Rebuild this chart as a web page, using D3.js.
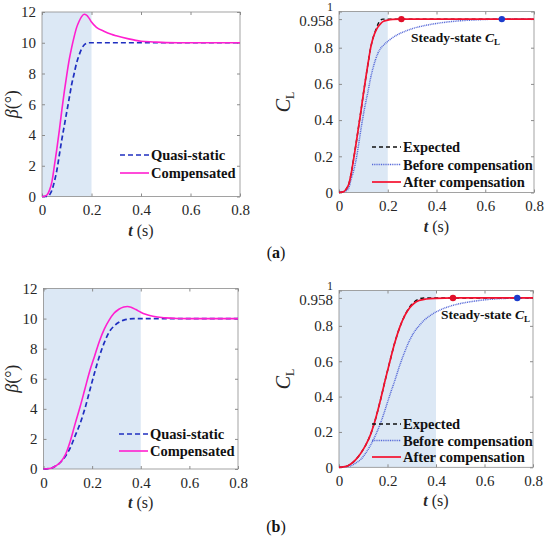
<!DOCTYPE html>
<html>
<head>
<meta charset="utf-8">
<script src="https://cdn.jsdelivr.net/npm/d3@7"></script>
<style>
  body { margin: 0; background: #fff; }
  svg text { font-family: "Liberation Serif", "Times New Roman", serif; }
</style>
</head>
<body>
<div class="container"></div>
<script>
// ---- data ----
const xTicks = [0, 0.2, 0.4, 0.6, 0.8];
const betaTicks = [0, 2, 4, 6, 8, 10, 12];
const clTicks = [0, 0.2, 0.4, 0.6, 0.8, 0.958, 1];

// (a) beta
const tA_qs   = [0, 0.02, 0.03, 0.04, 0.05, 0.06, 0.07, 0.08, 0.09, 0.10, 0.11, 0.12, 0.13, 0.14, 0.15, 0.16, 0.17, 0.18, 0.19, 0.8];
const betaA_qs = [0, 0, 0.1, 0.4, 0.97, 1.7, 2.7, 3.7, 4.6, 5.5, 6.4, 7.3, 8.0, 8.7, 9.2, 9.6, 9.85, 9.97, 10, 10];
const tA_comp   = [0, 0.01, 0.02, 0.03, 0.04, 0.05, 0.06, 0.07, 0.08, 0.09, 0.10, 0.11, 0.12, 0.13, 0.14, 0.15, 0.16, 0.17, 0.18, 0.19, 0.2, 0.22, 0.25, 0.28, 0.3, 0.35, 0.4, 0.45, 0.5, 0.55, 0.8];
const betaA_comp = [0, 0.02, 0.1, 0.4, 0.95, 2.0, 3.1, 4.3, 5.6, 6.8, 7.9, 8.9, 9.7, 10.4, 11.0, 11.4, 11.7, 11.85, 11.8, 11.6, 11.35, 11.0, 10.75, 10.55, 10.45, 10.25, 10.1, 10.05, 10.01, 10, 10];

// (a) CL
const tA_exp  = [0, 0.02, 0.03, 0.04, 0.05, 0.06, 0.07, 0.08, 0.09, 0.10, 0.11, 0.12, 0.13, 0.14, 0.15, 0.16, 0.17, 0.18, 0.8];
const clA_exp = [0, 0.005, 0.02, 0.045, 0.105, 0.185, 0.27, 0.36, 0.45, 0.545, 0.635, 0.72, 0.8, 0.855, 0.895, 0.93, 0.952, 0.958, 0.958];
const tA_before  = [0, 0.03, 0.04, 0.05, 0.06, 0.07, 0.08, 0.09, 0.10, 0.11, 0.12, 0.13, 0.14, 0.15, 0.16, 0.17, 0.18, 0.2, 0.22, 0.24, 0.27, 0.3, 0.35, 0.4, 0.45, 0.5, 0.55, 0.6, 0.67, 0.8];
const clA_before = [0, 0.01, 0.025, 0.075, 0.12, 0.18, 0.26, 0.35, 0.43, 0.5, 0.565, 0.635, 0.69, 0.735, 0.77, 0.795, 0.81, 0.835, 0.855, 0.872, 0.89, 0.905, 0.922, 0.934, 0.943, 0.949, 0.953, 0.956, 0.958, 0.958];
const tA_after  = [0, 0.02, 0.03, 0.04, 0.05, 0.06, 0.07, 0.08, 0.09, 0.10, 0.11, 0.12, 0.13, 0.14, 0.15, 0.16, 0.17, 0.18, 0.2, 0.22, 0.25, 0.8];
const clA_after = [0, 0.005, 0.02, 0.045, 0.105, 0.185, 0.27, 0.36, 0.45, 0.545, 0.635, 0.72, 0.8, 0.855, 0.89, 0.915, 0.932, 0.944, 0.952, 0.956, 0.958, 0.958];
const dotsA = [0.256, 0.668];

// (b) beta
const tB_qs   = [0, 0.03, 0.05, 0.07, 0.09, 0.11, 0.13, 0.15, 0.17, 0.19, 0.21, 0.23, 0.25, 0.27, 0.29, 0.31, 0.33, 0.35, 0.37, 0.8];
const betaB_qs = [0, 0.05, 0.2, 0.45, 0.85, 1.4, 2.2, 3.0, 4.0, 5.2, 6.4, 7.5, 8.4, 9.1, 9.5, 9.75, 9.9, 9.97, 10, 10];
const tB_comp   = [0, 0.03, 0.05, 0.07, 0.09, 0.11, 0.13, 0.15, 0.17, 0.19, 0.21, 0.23, 0.25, 0.27, 0.29, 0.31, 0.33, 0.345, 0.36, 0.38, 0.40, 0.42, 0.45, 0.5, 0.55, 0.6, 0.8];
const betaB_comp = [0, 0.05, 0.2, 0.45, 0.95, 1.85, 3.0, 4.1, 5.3, 6.5, 7.5, 8.5, 9.3, 9.9, 10.35, 10.62, 10.77, 10.8, 10.75, 10.6, 10.42, 10.28, 10.15, 10.05, 10.01, 10, 10];

// (b) CL
const tB_exp  = [0, 0.03, 0.05, 0.07, 0.09, 0.11, 0.13, 0.15, 0.17, 0.19, 0.21, 0.23, 0.25, 0.27, 0.29, 0.31, 0.33, 0.35, 0.8];
const clB_exp = [0, 0.005, 0.02, 0.045, 0.08, 0.125, 0.185, 0.27, 0.375, 0.49, 0.6, 0.705, 0.79, 0.855, 0.905, 0.935, 0.952, 0.958, 0.958];
const tB_before  = [0, 0.05, 0.07, 0.09, 0.11, 0.13, 0.15, 0.17, 0.19, 0.21, 0.23, 0.25, 0.27, 0.29, 0.31, 0.33, 0.35, 0.38, 0.42, 0.46, 0.5, 0.55, 0.6, 0.65, 0.7, 0.75, 0.8];
const clB_before = [0, 0.01, 0.025, 0.045, 0.08, 0.125, 0.18, 0.245, 0.325, 0.41, 0.49, 0.575, 0.65, 0.715, 0.765, 0.8, 0.83, 0.862, 0.892, 0.912, 0.926, 0.938, 0.947, 0.953, 0.956, 0.958, 0.958];
const tB_after  = [0, 0.03, 0.05, 0.07, 0.09, 0.11, 0.13, 0.15, 0.17, 0.19, 0.21, 0.23, 0.25, 0.27, 0.29, 0.31, 0.33, 0.36, 0.4, 0.47, 0.8];
const clB_after = [0, 0.005, 0.02, 0.045, 0.08, 0.125, 0.185, 0.27, 0.375, 0.49, 0.6, 0.705, 0.79, 0.855, 0.9, 0.928, 0.943, 0.952, 0.956, 0.958, 0.958];
const dotsB = [0.47, 0.735];

// ---- drawing ----
const svg = d3.select(".container").append("svg")
    .attr("width", 550)
    .attr("height", 539);

const boxColor = "#8c8c8c";
const textColor = "#262626";

const zip = (ts, vs) => ts.map((t, i) => [t, vs[i]]);

function drawPanel(p) {
  const x = d3.scaleLinear().domain([0, 0.8]).range([p.x0, p.x1]);
  const y = d3.scaleLinear().domain(p.yDomain).range([p.y0, p.y1]);
  const g = svg.append("g");

  // shaded region
  g.append("rect")
    .attr("x", x(0)).attr("y", p.y1)
    .attr("width", x(p.shade) - x(0)).attr("height", p.y0 - p.y1)
    .attr("fill", "#dce8f5");

  // axes (inward ticks on all sides, MATLAB style)
  const bottom = g.append("g").attr("transform", `translate(0,${p.y0})`)
    .call(d3.axisBottom(x).tickValues(xTicks).tickSizeInner(-3).tickSizeOuter(0).tickPadding(8).tickFormat(d => d === 0 ? "0" : d3.format(".1f")(d)));
  const top = g.append("g").attr("transform", `translate(0,${p.y1})`)
    .call(d3.axisTop(x).tickValues(xTicks).tickSizeInner(-3).tickSizeOuter(0).tickFormat(""));
  const left = g.append("g").attr("transform", `translate(${p.x0},0)`)
    .call(d3.axisLeft(y).tickValues(p.yTicks).tickSizeInner(-3).tickSizeOuter(0).tickPadding(6).tickFormat(p.yFormat));
  const right = g.append("g").attr("transform", `translate(${p.x1},0)`)
    .call(d3.axisRight(y).tickValues(p.yTicks).tickSizeInner(-3).tickSizeOuter(0).tickFormat(""));
  [bottom, top, left, right].forEach(a => {
    a.select(".domain").remove();
    a.selectAll("line").attr("stroke", boxColor);
    a.selectAll("text").attr("fill", textColor).style("font-size", "15px")
      .style("font-family", "'Liberation Serif', serif");
  });
  if (p.yExtra) p.yExtra(left);

  // box
  g.append("rect")
    .attr("x", p.x0).attr("y", p.y1)
    .attr("width", p.x1 - p.x0).attr("height", p.y0 - p.y1)
    .attr("fill", "none").attr("stroke", boxColor).attr("stroke-width", 0.8);

  const line = d3.line().x(d => x(d[0])).y(d => y(d[1])).curve(d3.curveMonotoneX);

  p.series.forEach(s => {
    g.append("path")
      .datum(zip(s.t, s.v))
      .attr("d", line)
      .attr("fill", "none")
      .attr("stroke", s.color)
      .attr("stroke-width", s.width)
      .attr("stroke-dasharray", s.dash || null);
  });

  if (p.dots) {
    p.dots.forEach((d, i) => {
      g.append("circle")
        .attr("cx", x(d)).attr("cy", y(0.958)).attr("r", 3.2)
        .attr("fill", i === 0 ? "#e0102a" : "#1c3ccc");
    });
    g.append("text")
      .attr("x", p.ssX).attr("y", p.ssY)
      .attr("font-size", "13.5px").attr("font-weight", "bold").attr("fill", "#111")
      .call(t => {
        t.append("tspan").text("Steady-state ");
        t.append("tspan").attr("font-style", "italic").text("C");
        t.append("tspan").attr("font-size", "9px").attr("dy", 3).text("L");
      });
  }

  // legend
  p.series.forEach((s, i) => {
    const ly = p.legY + i * p.legStep;
    g.append("line")
      .attr("x1", p.legX).attr("x2", p.legX + 29)
      .attr("y1", ly).attr("y2", ly)
      .attr("stroke", s.color).attr("stroke-width", s.width)
      .attr("stroke-dasharray", s.dash || null);
    g.append("text")
      .attr("x", p.legX + 31).attr("y", ly + 5)
      .attr("font-size", "14.5px").attr("font-weight", "bold").attr("fill", "#111")
      .text(s.name);
  });

  // x label
  g.append("text")
    .attr("x", (p.x0 + p.x1) / 2).attr("y", p.y0 + 39)
    .attr("text-anchor", "middle").attr("font-size", "16px").attr("fill", textColor)
    .call(t => {
      t.append("tspan").attr("font-style", "italic").attr("font-weight", "bold").text("t");
      t.append("tspan").text(" (s)");
    });

  // y label
  const yl = g.append("text")
    .attr("transform", `translate(${p.ylabX},${(p.y0 + p.y1) / 2}) rotate(-90)`)
    .attr("text-anchor", "middle").attr("fill", textColor);
  if (p.kind === "beta") {
    yl.attr("font-size", "18px");
    yl.append("tspan").attr("font-style", "italic").text("β");
    yl.append("tspan").text("(°)");
  } else {
    yl.attr("font-size", "20px");
    yl.append("tspan").attr("font-style", "italic").text("C");
    yl.append("tspan").attr("font-size", "12px").attr("dy", 4).text("L");
  }
}

const clFormat = d => d === 0 ? "0" : d === 1 ? "1" : d === 0.958 ? "0.958" : d3.format(".1f")(d);
const clExtra = axis => {
  // "1" sits just above the 0.958 label
  axis.selectAll(".tick").filter(d => d === 1).select("text")
    .style("font-size", "12px").attr("dy", "-0.1em");
  axis.selectAll(".tick").filter(d => d === 0.958).select("text").attr("dy", "0.45em");
};

const betaSeries = (tq, vq, tc, vc) => [
  { name: "Quasi-static", t: tq, v: vq, color: "#1f2fc0", width: 1.7, dash: "5,3" },
  { name: "Compensated", t: tc, v: vc, color: "#ff1fd0", width: 1.6 }
];
const clSeries = (te, ve, tb, vb, ta, va) => [
  { name: "Expected", t: te, v: ve, color: "#111", width: 1.4, dash: "4,3" },
  { name: "Before compensation", t: tb, v: vb, color: "#5568d8", width: 1.5, dash: "1,0.8" },
  { name: "After compensation", t: ta, v: va, color: "#f5102e", width: 1.7 }
];

drawPanel({ kind: "beta", x0: 42, x1: 240, y0: 196.5, y1: 12, yDomain: [0, 12], yTicks: betaTicks,
  yFormat: d3.format("d"), shade: 0.2, ylabX: 18, legX: 120, legY: 155, legStep: 18,
  series: betaSeries(tA_qs, betaA_qs, tA_comp, betaA_comp) });

drawPanel({ kind: "cl", x0: 339, x1: 534, y0: 192.5, y1: 11.5, yDomain: [0, 1], yTicks: clTicks,
  yFormat: clFormat, yExtra: clExtra, shade: 0.2, ylabX: 290, legX: 372, legY: 147, legStep: 17.5,
  dots: dotsA, ssX: 411, ssY: 42,
  series: clSeries(tA_exp, clA_exp, tA_before, clA_before, tA_after, clA_after) });

drawPanel({ kind: "beta", x0: 43.5, x1: 238, y0: 469, y1: 288.5, yDomain: [0, 12], yTicks: betaTicks,
  yFormat: d3.format("d"), shade: 0.4, ylabX: 18, legX: 119, legY: 434, legStep: 17,
  series: betaSeries(tB_qs, betaB_qs, tB_comp, betaB_comp) });

drawPanel({ kind: "cl", x0: 339, x1: 533, y0: 467.3, y1: 290.5, yDomain: [0, 1], yTicks: clTicks,
  yFormat: clFormat, yExtra: clExtra, shade: 0.4, ylabX: 290, legX: 372, legY: 424, legStep: 16.5,
  dots: dotsB, ssX: 441, ssY: 319,
  series: clSeries(tB_exp, clB_exp, tB_before, clB_before, tB_after, clB_after) });

// sub-figure captions
[["a", 253], ["b", 527]].forEach(([c, yy]) => {
  const t = svg.append("text")
    .attr("x", 276).attr("y", yy + 5)
    .attr("text-anchor", "middle").attr("font-size", "16px").attr("fill", "#111");
  t.append("tspan").text("(");
  t.append("tspan").attr("font-weight", "bold").text(c);
  t.append("tspan").text(")");
});
</script>
</body>
</html>
